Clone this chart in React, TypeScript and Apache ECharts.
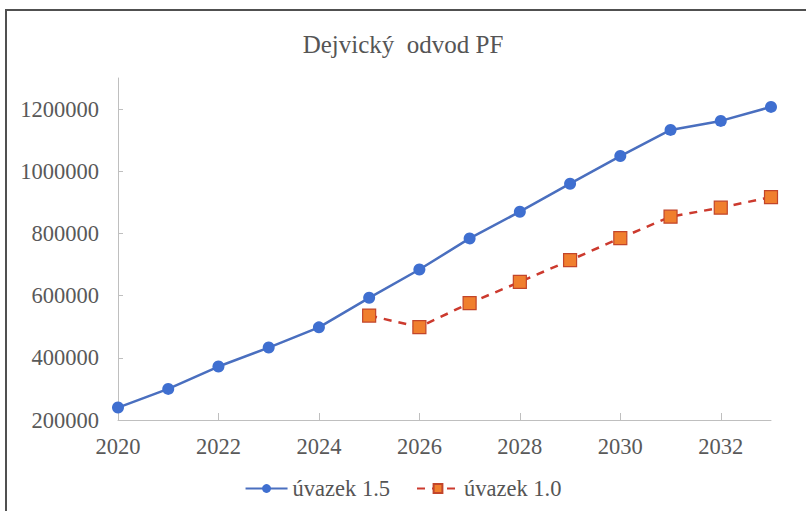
import React, { useEffect, useRef } from "react";
import * as echarts from "echarts";

const years = [2020, 2021, 2022, 2023, 2024, 2025, 2026, 2027, 2028, 2029, 2030, 2031, 2032, 2033];
const uvazek15 = [240000, 300000, 372000, 433000, 498000, 593000, 684000, 784000, 870000, 960000, 1049000, 1133000, 1162000, 1207000];
const uvazek10Years = [2025, 2026, 2027, 2028, 2029, 2030, 2031, 2032, 2033];
const uvazek10 = [536000, 499000, 576000, 644000, 714000, 785000, 854000, 883000, 917000];

const FONT = "Liberation Serif";

export default function App() {
  const ref = useRef<HTMLDivElement>(null);
  useEffect(() => {
    document.body.style.margin = "0";
    if (!ref.current) return;
    const chart = echarts.init(ref.current, null, { renderer: "svg" });
    chart.setOption({
      animation: false,
      backgroundColor: "#ffffff",
      title: {
        text: "Dejvický  odvod PF",
        left: "center",
        top: 27,
        textStyle: { fontFamily: FONT, fontSize: 25, fontWeight: "normal", color: "#555555" },
      },
      graphic: [
        {
          type: "rect",
          shape: { x: 6, y: 10, width: 830, height: 540 },
          style: { fill: "none", stroke: "#505050", lineWidth: 2 },
          silent: true,
        },
      ],
      legend: {
        bottom: 6,
        left: "center",
        itemWidth: 42,
        itemHeight: 11,
        itemGap: 26,
        textStyle: { fontFamily: FONT, fontSize: 22.5, color: "#555555" },
        data: ["úvazek 1.5", "úvazek 1.0"],
      },
      grid: { left: 118, right: 35, top: 78, bottom: 91, containLabel: false },
      xAxis: {
        type: "value",
        min: 2020,
        max: 2033,
        interval: 2,
        axisLine: { lineStyle: { color: "#BFBFBF", width: 1 } },
        axisTick: { show: true, inside: true, length: 7, lineStyle: { color: "#BFBFBF" } },
        splitLine: { show: false },
        axisLabel: {
          showMaxLabel: false,
          margin: 15,
          fontFamily: FONT,
          fontSize: 22.5,
          color: "#595959",
          formatter: (v: number) => String(v),
        },
      },
      yAxis: {
        type: "value",
        min: 200000,
        max: 1300000,
        interval: 200000,
        axisLine: { show: true, lineStyle: { color: "#BFBFBF", width: 1 } },
        axisTick: { show: true, inside: true, length: 5, lineStyle: { color: "#BFBFBF" } },
        splitLine: { show: false },
        axisLabel: {
          showMaxLabel: false,
          margin: 19,
          fontFamily: FONT,
          fontSize: 22.5,
          color: "#595959",
          formatter: (v: number) => (v > 1200000 ? "" : String(v)),
        },
      },
      series: [
        {
          name: "úvazek 1.5",
          type: "line",
          data: years.map((y, i) => [y, uvazek15[i]]),
          symbol: "circle",
          symbolSize: 12,
          lineStyle: { color: "#4A6FBF", width: 2.5 },
          itemStyle: { color: "#3F6FD0", borderColor: "#3F6FD0", borderWidth: 0 },
          z: 3,
        },
        {
          name: "úvazek 1.0",
          type: "line",
          data: uvazek10Years.map((y, i) => [y, uvazek10[i]]),
          symbol: "rect",
          symbolSize: 13,
          lineStyle: { color: "#CC3A2E", width: 2.5, type: [8, 7] },
          itemStyle: { color: "#F07F2E", borderColor: "#C2452A", borderWidth: 1.2 },
          z: 2,
        },
      ],
    });
    return () => chart.dispose();
  }, []);
  return <div ref={ref} style={{ width: 806, height: 511 }} />;
}
